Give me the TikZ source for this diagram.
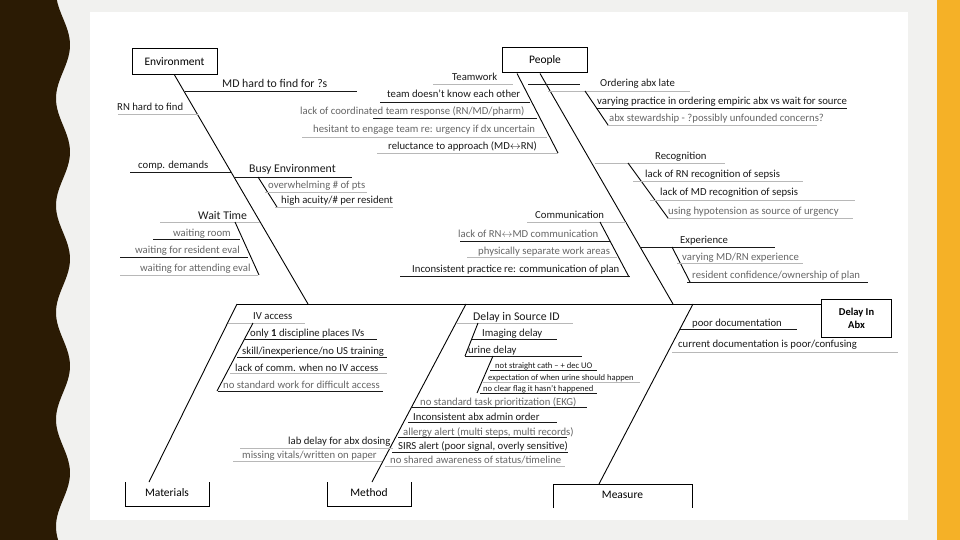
\documentclass[tikz,border=0pt]{standalone}
\usepackage{fontspec}
\setmainfont{Carlito}
\definecolor{band}{HTML}{2B1B04}
\definecolor{gold}{HTML}{F5B127}
\definecolor{paper}{HTML}{F1F1EF}
\definecolor{ink}{HTML}{1A1A1A}
\definecolor{pale}{HTML}{666666}
\definecolor{faint}{HTML}{B8B8B8}
\tikzset{
  box/.style={draw, line width=1pt, inner sep=0pt, font=\fontsize{11.5}{13}\selectfont},
  lbl/.style={anchor=base west, inner sep=0pt, text=ink, font=\fontsize{10.7}{12}\selectfont},
  big/.style={lbl, font=\fontsize{11.8}{13}\selectfont},
  tiny/.style={lbl, font=\fontsize{8.6}{10}\selectfont},
  dim/.style={text=pale},
  bone/.style={line width=0.9pt, black},
  dk/.style={line width=0.9pt, black!90},
  lt/.style={line width=0.9pt, faint},
}
\begin{document}
\begin{tikzpicture}[x=1pt, y=-1pt]
    \useasboundingbox (0,0) rectangle (960,540);
    % Frame
    \fill[paper] (0,0) rectangle (960,540);
    \fill[white] (90,12) rectangle (908,520);
    \fill[gold] (937,0) rectangle (960,540);
    \fill[band] (0,0) -- plot[domain=0:540, samples=160] ({63+7*cos(3.3645*(\x-45))}, \x) -- (0,540) -- cycle;

    % Category boxes
    \node[box, minimum width=85, minimum height=26] (env) at (174.5,61.5) {Environment};
    \node[box, minimum width=85, minimum height=25] (ppl) at (545,60.5) {People};
    \node[box, minimum width=70, minimum height=38, align=center, font=\fontsize{10.5}{13}\selectfont\bfseries] (abx) at (856.5,318.5) {Delay In\\Abx};
    \draw[line width=1pt] (125,482) -- (125,506) -- (209,506) -- (209,482);
    \node[box, draw=none] (mat) at (167,493) {Materials};
    \draw[line width=1pt] (327,482) -- (327,506) -- (411,506) -- (411,482);
    \node[box, draw=none] (mtd) at (369,493) {Method};
    \draw[line width=1pt] (553,508) -- (553,484) -- (692,484) -- (692,508);
    \node[box, draw=none] (msr) at (622.5,495) {Measure};

    % Spine and main bones
    \coordinate (s0) at (237,304);
    \coordinate (sE) at (308,304);
    \coordinate (sP) at (673,304);
    \coordinate (sM) at (466,304);
    \coordinate (sR) at (693,304);
    \draw[bone] (s0) -- (abx.west |- s0);
    \draw[bone] (env.south) -- (sE);
    \draw[bone] ([xshift=-5]ppl.south) -- (sP);
    \draw[bone] (s0) -- (149,482);
    \draw[bone] (sM) -- (372,482);
    \draw[bone] (sR) -- (599,484);

    % Environment
    \node[big] (mdfind) at (222,88) {MD hard to find for ?s};
    \draw[dk] (185,91) -- (357,91);
    \node[lbl] (rnfind) at (117,111) {RN hard to find};
    \draw[lt] (118,114) -- (198,114);
    \node[lbl] (comp) at (138,168) {comp. demands};
    \draw[dk] (130,172) -- (231,172);
    \node[big] (busy) at (249,173) {Busy Environment};
    \draw[dk] (234,177) -- (352,177);
    \draw[bone] (258,177) -- (277,207);
    \node[lbl, dim] (pts) at (268,188) {overwhelming \# of pts};
    \draw[lt] (265,192) -- (367,192);
    \node[lbl] (acuity) at (281,203) {high acuity/\# per resident};
    \draw[lt] (275,207) -- (393,207);
    \node[big] (wait) at (198,219) {Wait Time};
    \draw[lt] (160,222) -- (260,222);
    \draw[bone] (235,222) -- (259,275);
    \node[lbl, dim] (room) at (173,236) {waiting room};
    \draw[dk] (153,239) -- (240,239);
    \node[lbl, dim] (resev) at (135,253) {waiting for resident eval};
    \draw[dk] (120,257) -- (248,257);
    \node[lbl, dim] (attev) at (140,271) {waiting for attending eval};
    \draw[lt] (120,275) -- (258,275);

    % People: teamwork
    \draw[bone] ([xshift=-28]ppl.south) -- (558,153);
    \node[lbl] (team) at (452,81) {Teamwork};
    \draw[lt] (433,84) -- (513,84);
    \draw[dk] (528,84) -- (580,84);
    \node[lbl] (know) at (387,98) {team doesn't know each other};
    \draw[dk] (380,102) -- (530,102);
    \node[lbl, dim] (coord) at (300,115) {lack of coordinated team response (RN/MD/pharm)};
    \draw[dk] (373,118) -- (537,118);
    \node[lbl, dim] (hesit) at (313,133) {hesitant to engage team re: urgency if dx uncertain};
    \draw[lt] (302,137) -- (547,137);
    \node[lbl] (reluct) at (388,150) {reluctance to approach (MD$\leftrightarrow$RN)};
    \draw[lt] (377,153) -- (558,153);

    % People: ordering, recognition, communication, experience
    \node[lbl] (order) at (600,87) {Ordering abx late};
    \draw[lt] (548,91) -- (690,91);
    \draw[bone] (585,91) -- (608,125);
    \node[lbl] (empiric) at (597,105) {varying practice in ordering empiric abx vs wait for source};
    \draw[dk] (596,108) -- (847,108);
    \node[lbl, dim] (stew) at (609,122) {abx stewardship - ?possibly unfounded concerns?};
    \draw[lt] (607,125) -- (817,125);
    \node[lbl] (recog) at (655,160) {Recognition};
    \draw[lt] (595,163) -- (725,163);
    \draw[bone] (628,163) -- (668,218);
    \node[lbl] (rnsep) at (645,178) {lack of RN recognition of sepsis};
    \draw[lt] (633,181) -- (803,181);
    \node[lbl] (mdsep) at (660,196) {lack of MD recognition of sepsis};
    \draw[lt] (650,200) -- (855,200);
    \node[lbl, dim] (hypo) at (668,214) {using hypotension as source of urgency};
    \draw[lt] (667,218) -- (853,218);
    \node[lbl] (comm) at (535,218) {Communication};
    \draw[lt] (527,222) -- (626,222);
    \draw[bone] (600,222) -- (629,277);
    \node[lbl, dim] (rnmd) at (458,237) {lack of RN$\leftrightarrow$MD communication};
    \draw[dk] (460,241) -- (610,241);
    \node[lbl, dim] (sep) at (478,254) {physically separate work areas};
    \draw[lt] (467,257) -- (617,257);
    \node[lbl] (plan) at (412,272) {Inconsistent practice re: communication of plan};
    \draw[dk] (400,276) -- (630,276);
    \node[lbl] (exp) at (680,243) {Experience};
    \draw[dk] (640,247) -- (775,247);
    \draw[bone] (672,247) -- (690,282);
    \node[lbl, dim] (varexp) at (682,260) {varying MD/RN experience};
    \draw[lt] (677,263) -- (803,263);
    \node[lbl, dim] (own) at (692,278) {resident confidence/ownership of plan};
    \draw[dk] (687,282) -- (868,282);

    % Materials
    \node[lbl] (iv) at (253,319) {IV access};
    \draw[lt] (228,323) -- (305,323);
    \draw[bone] (253,323) -- (217,391);
    \node[lbl] (disc) at (250,336) {only \textbf{1} discipline places IVs};
    \draw[dk] (245,339) -- (377,339);
    \node[lbl] (skill) at (242,354) {skill/inexperience/no US training};
    \draw[dk] (237,357) -- (387,357);
    \node[lbl] (nocomm) at (235,371) {lack of comm. when no IV access};
    \draw[lt] (230,373) -- (387,373);
    \node[lbl, dim] (diff) at (223,388) {no standard work for difficult access};
    \draw[dk] (218,391) -- (383,391);

    % Method
    \node[big] (srcid) at (473,320) {Delay in Source ID};
    \draw[lt] (456,323) -- (573,323);
    \draw[bone] (478,323) -- (465,356);
    \node[lbl] (img) at (482,336) {Imaging delay};
    \draw[dk] (472,339) -- (557,339);
    \node[lbl] (urine) at (468,353) {urine delay};
    \draw[dk] (465,356) -- (582,356);
    \draw[bone] (493,356) -- (477,393);
    \node[tiny] (cath) at (495,368) {not straight cath – + dec UO};
    \draw[dk] (490,370) -- (597,370);
    \node[tiny] (expect) at (488,380) {expectation of when urine should happen};
    \draw[lt] (483,382) -- (640,382);
    \node[tiny] (flag) at (483,391) {no clear flag it hasn't happened};
    \draw[dk] (480,393) -- (597,393);
    \node[lbl, dim] (prio) at (420,405) {no standard task prioritization (EKG)};
    \draw[dk] (412,407) -- (587,407);
    \node[lbl] (admin) at (413,420) {Inconsistent abx admin order};
    \draw[dk] (408,422) -- (557,422);
    \node[lbl, dim] (allergy) at (403,435) {allergy alert (multi steps, multi records)};
    \draw[dk] (398,437) -- (567,437);
    \node[lbl] (sirs) at (398,449) {SIRS alert (poor signal, overly sensitive)};
    \draw[dk] (392,452) -- (568,452);
    \node[lbl, dim] (aware) at (390,463) {no shared awareness of status/timeline};
    \draw[lt] (385,466) -- (565,466);
    \node[lbl] (lab) at (288,444) {lab delay for abx dosing};
    \draw[lt] (240,448) -- (393,448);
    \node[lbl, dim] (vitals) at (242,458) {missing vitals/written on paper};
    \draw[lt] (233,461) -- (382,461);

    % Measure
    \node[lbl] (poor) at (692,326) {poor documentation};
    \draw[dk] (680,329) -- (797,329);
    \node[lbl] (curdoc) at (678,347) {current documentation is poor/confusing};
    \draw[lt] (672,352) -- (898,352);
\end{tikzpicture}
\end{document}
